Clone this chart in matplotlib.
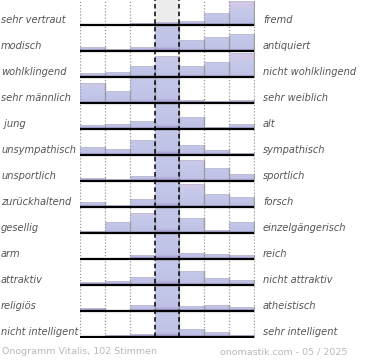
import matplotlib.pyplot as plt
import numpy as np
from matplotlib.colors import LinearSegmentedColormap
from matplotlib.patches import Rectangle

LEFT_LABELS = [
    "sehr vertraut", "modisch", "wohlklingend", "sehr männlich", " jung",
    "unsympathisch", "unsportlich", "zurückhaltend", "gesellig", "arm",
    "attraktiv", "religiös", "nicht intelligent",
]
RIGHT_LABELS = [
    "fremd", "antiquiert", "nicht wohlklingend", "sehr weiblich", "alt",
    "sympathisch", "sportlich", "forsch", "einzelgängerisch", "reich",
    "nicht attraktiv", "atheistisch", "sehr intelligent",
]
# bar heights per row (7 bins), 1.0 = full cell; values > 1 are cut off in the reference
ROW_VALUES = [
    [0.00, 0.00, 0.07, 0.11, 0.16, 0.48, 1.00],
    [0.16, 0.09, 0.16, 2.00, 0.45, 0.57, 0.72],
    [0.16, 0.20, 0.45, 0.88, 0.45, 0.62, 1.00],
    [0.83, 0.50, 1.50, 2.00, 0.14, 0.07, 0.12],
    [0.15, 0.22, 0.35, 2.00, 0.49, 0.10, 0.21],
    [0.35, 0.26, 0.64, 2.00, 0.42, 0.21, 0.08],
    [0.12, 0.08, 0.22, 2.00, 0.88, 0.54, 0.30],
    [0.19, 0.08, 0.32, 2.00, 0.95, 0.54, 0.42],
    [0.07, 0.45, 0.83, 2.00, 0.64, 0.14, 0.45],
    [0.00, 0.00, 0.17, 2.00, 0.25, 0.20, 0.15],
    [0.11, 0.18, 0.35, 2.00, 0.60, 0.29, 0.20],
    [0.14, 0.06, 0.24, 2.00, 0.20, 0.26, 0.18],
    [0.00, 0.08, 0.14, 2.00, 0.32, 0.20, 0.08],
]
FOOTER_LEFT = "Onogramm Vitalis, 102 Stimmen"
FOOTER_RIGHT = "onomastik.com - 05 / 2025"

W, H = 370, 360          # px
AX_L, AX_R = 80, 255     # px: plot area left / right
AX_BOTTOM = 338          # px from top
ROW_H = 26               # px per row
FULL = 24                # px for value 1.0
FIRST_BASE = 25          # px from top, baseline of first row


def main() -> None:
    fig = plt.figure(figsize=(W / 100, H / 100), dpi=100)
    ax = fig.add_axes([AX_L / W, 1 - AX_BOTTOM / H, (AX_R - AX_L) / W, AX_BOTTOM / H])
    ax.set_axis_off()

    cmap = LinearSegmentedColormap.from_list(
        "bar",
        [(0.0, "#9a8ac6"), (0.09, "#bfc2e6"), (0.6, "#c4c9ea"), (1.0, "#dac6e6")],
    )
    grad = np.linspace(0, 1, 128).reshape(-1, 1)

    n_rows = len(ROW_VALUES)
    for i, vals in enumerate(ROW_VALUES):
        base = AX_BOTTOM - FIRST_BASE - ROW_H * i
        if i == 0:
            ax.add_patch(Rectangle((3, base), 1, FIRST_BASE, facecolor="#ececec",
                                   edgecolor="none", zorder=0))
        for j, v in enumerate(vals):
            if v <= 0:
                continue
            h = min(v * FULL, ROW_H - 1)
            scale = FULL if v <= 1 else v * FULL
            rect = Rectangle((j, base), 1, h, transform=ax.transData)
            im = ax.imshow(grad, extent=(j, j + 1, base, base + scale), origin="lower",
                           cmap=cmap, vmin=0, vmax=1, aspect="auto",
                           interpolation="bilinear", zorder=1)
            im.set_clip_path(rect)
            ax.plot([j + 1, j + 1], [base, base + h], color="#9c9ca4", lw=0.9, zorder=2)
            ax.plot([j, j + 1], [base + h, base + h], color="#bcbccc", lw=0.5, zorder=2)
        ax.plot([0, 7], [base, base], color="black", lw=1.6, zorder=4,
                solid_capstyle="butt")

        y_text = 1 - (FIRST_BASE + ROW_H * i - 5) / H
        fig.text(1 / W, y_text, LEFT_LABELS[i], ha="left", va="center",
                 fontsize=7.1, style="italic", color="#555555")
        fig.text(263 / W, y_text, RIGHT_LABELS[i], ha="left", va="center",
                 fontsize=7.1, style="italic", color="#555555")

    y_low = AX_BOTTOM - FIRST_BASE - ROW_H * (n_rows - 1)
    for x in [0, 1, 2, 5, 6, 7]:
        ax.plot([x, x], [y_low, AX_BOTTOM], color="#999999", lw=0.9,
                linestyle=(0, (1, 1.5)), zorder=3)
    for x in [3, 4]:
        ax.plot([x, x], [y_low, AX_BOTTOM], color="black", lw=1.1,
                linestyle=(0, (3, 2)), zorder=3)

    ax.set_xlim(-0.02, 7.06)
    ax.set_ylim(0, AX_BOTTOM)

    fig.text(2 / W, 1 - 352 / H, FOOTER_LEFT, ha="left", va="center",
             fontsize=6.8, color="#b8b8b8")
    fig.text(347 / W, 1 - 352 / H, FOOTER_RIGHT, ha="right", va="center",
             fontsize=6.8, color="#b8b8b8")

    fig.savefig("out.png", dpi=100)


if __name__ == "__main__":
    main()
